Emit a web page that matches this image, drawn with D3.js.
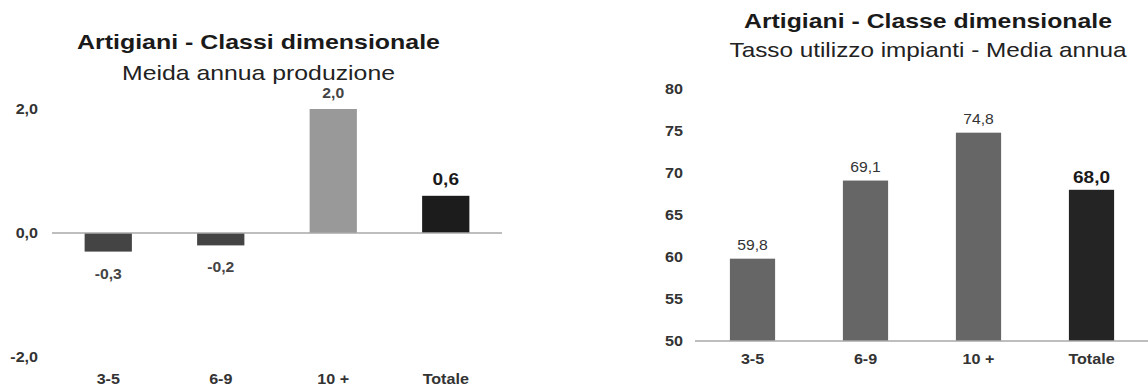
<!DOCTYPE html>
<html><head><meta charset="utf-8">
<script src="https://cdn.jsdelivr.net/npm/d3@7"></script>
<style>
html,body{margin:0;padding:0;background:#fff;}
svg{display:block;font-family:"Liberation Sans",Arial,sans-serif;}
</style></head>
<body>
<svg id="c" width="1148" height="390"></svg>
<script>
const categories = ["3-5", "6-9", "10 +", "Totale"];
const produzione = [-0.3, -0.2, 2.0, 0.6];
const utilizzo = [59.8, 69.1, 74.8, 68.0];
const leftTicks = [-2, 0, 2];
const rightTicks = [50, 55, 60, 65, 70, 75, 80];
const leftTitle = "Artigiani - Classi dimensionale";
const leftSubtitle = "Meida annua produzione";
const rightTitle = "Artigiani - Classe dimensionale";
const rightSubtitle = "Tasso utilizzo  impianti - Media annua";
const leftColors = ["#444444", "#444444", "#999999", "#1c1c1c"];
const rightColors = ["#666666", "#666666", "#666666", "#242424"];

const it = d3.formatLocale({decimal: ",", thousands: ".", grouping: [3], currency: ["€", ""], minus: "-"});
const f1 = it.format(".1f");
const f0 = it.format("d");

const svg = d3.select("#c");
const STRETCH = 1.15;

function widen(sel, k) {
  sel.each(function() {
    const w = this.getComputedTextLength();
    d3.select(this).attr("textLength", w * k).attr("lengthAdjust", "spacingAndGlyphs");
  });
}

function title(cx, y1, y2, t, st, w1, w2) {
  svg.append("text").attr("x", cx).attr("y", y1).attr("text-anchor", "middle")
    .attr("font-size", 21).attr("font-weight", "bold").attr("fill", "#1a1a1a")
    .attr("textLength", w1).attr("lengthAdjust", "spacingAndGlyphs").text(t);
  svg.append("text").attr("x", cx).attr("y", y2).attr("text-anchor", "middle")
    .attr("font-size", 21).attr("fill", "#222")
    .attr("textLength", w2).attr("lengthAdjust", "spacingAndGlyphs").text(st);
}

function styleAxisText(g) {
  g.selectAll("text").attr("font-size", 14).attr("font-weight", "bold").attr("fill", "#333")
    .attr("font-family", "Liberation Sans, Arial, sans-serif");
  widen(g.selectAll("text"), STRETCH);
}

// ---------- Left chart ----------
{
  const x = d3.scaleBand().domain(categories).range([52, 502]).paddingInner(0.58).paddingOuter(0.29);
  const y = d3.scaleLinear().domain([-2, 2]).range([357, 109]);
  title(258.5, 49, 80, leftTitle, leftSubtitle, 363, 273);

  const yAxis = d3.axisLeft(y).tickValues(leftTicks).tickFormat(f1).tickSize(0).tickPadding(0);
  const ga = svg.append("g").attr("transform", "translate(38,0)").call(yAxis);
  ga.select(".domain").remove();
  styleAxisText(ga);

  const data = categories.map((c, i) => ({c, v: produzione[i], col: leftColors[i]}));
  svg.selectAll("rect.l").data(data).join("rect").attr("class", "l")
    .attr("x", d => x(d.c)).attr("width", x.bandwidth())
    .attr("y", d => y(Math.max(0, d.v))).attr("height", d => Math.abs(y(d.v) - y(0)))
    .attr("fill", d => d.col);

  svg.append("line").attr("x1", 52).attr("x2", 502).attr("y1", y(0)).attr("y2", y(0))
    .attr("stroke", "#a8a8a8").attr("stroke-width", 1.5);

  const lv = svg.selectAll("text.lv").data(data).join("text").attr("class", "lv")
    .attr("x", d => x(d.c) + x.bandwidth() / 2)
    .attr("y", d => d.v >= 0 ? y(d.v) - 11 : y(d.v) + 27)
    .attr("text-anchor", "middle")
    .attr("font-size", d => d.c === "Totale" ? 17 : 14)
    .attr("font-weight", "bold")
    .attr("fill", d => d.c === "Totale" ? "#1a1a1a" : "#444")
    .text(d => f1(d.v));
  widen(lv, 1.12);

  const xAxis = d3.axisBottom(x).tickSize(0).tickPadding(0);
  const gx = svg.append("g").attr("transform", "translate(0,374)").call(xAxis);
  gx.select(".domain").remove();
  styleAxisText(gx);
}

// ---------- Right chart ----------
{
  const x = d3.scaleBand().domain(categories).range([696, 1148]).paddingInner(0.6).paddingOuter(0.3);
  const y = d3.scaleLinear().domain([50, 80]).range([341, 89]);
  title(928, 28, 57, rightTitle, rightSubtitle, 368, 397);

  const yAxis = d3.axisLeft(y).tickValues(rightTicks).tickFormat(f0).tickSize(0).tickPadding(0);
  const ga = svg.append("g").attr("transform", "translate(683,0)").call(yAxis);
  ga.select(".domain").remove();
  styleAxisText(ga);

  const data = categories.map((c, i) => ({c, v: utilizzo[i], col: rightColors[i]}));
  svg.selectAll("rect.r").data(data).join("rect").attr("class", "r")
    .attr("x", d => x(d.c)).attr("width", x.bandwidth())
    .attr("y", d => y(d.v)).attr("height", d => y(50) - y(d.v))
    .attr("fill", d => d.col);

  svg.append("line").attr("x1", 695).attr("x2", 1148).attr("y1", y(50)).attr("y2", y(50))
    .attr("stroke", "#a8a8a8").attr("stroke-width", 1.5);

  const rv = svg.selectAll("text.rv").data(data).join("text").attr("class", "rv")
    .attr("x", d => x(d.c) + x.bandwidth() / 2)
    .attr("y", d => y(d.v) - (d.c === "Totale" ? 7 : 9))
    .attr("text-anchor", "middle")
    .attr("font-size", d => d.c === "Totale" ? 17 : 14)
    .attr("font-weight", d => d.c === "Totale" ? "bold" : "normal")
    .attr("fill", d => d.c === "Totale" ? "#1a1a1a" : "#333")
    .text(d => f1(d.v));
  widen(rv, 1.12);

  const xAxis = d3.axisBottom(x).tickSize(0).tickPadding(0);
  const gx = svg.append("g").attr("transform", "translate(0,354)").call(xAxis);
  gx.select(".domain").remove();
  styleAxisText(gx);
}
</script>
</body></html>
